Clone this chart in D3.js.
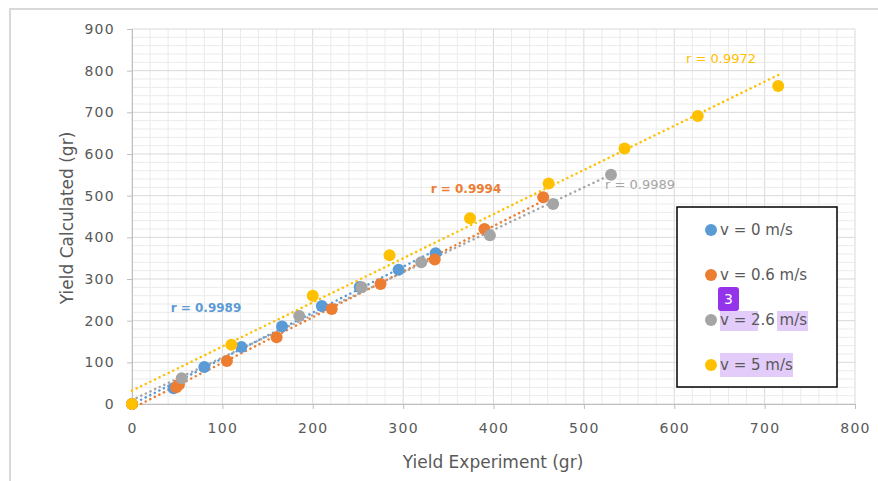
<!DOCTYPE html>
<html>
<head>
<meta charset="utf-8">
<script src="https://cdn.jsdelivr.net/npm/d3@7"></script>
<style>
  body { margin: 0; background: #fff; }
  text { font-family: "DejaVu Sans", sans-serif; }
</style>
</head>
<body>
<div id="chart"></div>
<script>
// series values: [yield experiment, yield calculated]
let seriesNames = ["v = 0 m/s", "v = 0.6 m/s", "v = 2.6 m/s", "v = 5 m/s"];
let v0 = [[0,0],[46,38],[80,89],[121,137],[166,186],[210,235],[252,281],[295,322],[336,362]];
let v06 = [[0,0],[49,40],[52,47],[105,103],[160,160],[221,228],[275,288],[335,347],[390,420],[455,496]];
let v26 = [[0,0],[55,62],[185,211],[254,280],[320,340],[396,405],[466,480],[530,550]];
let v5 = [[0,0],[110,142],[200,260],[285,357],[374,446],[461,529],[545,613],[626,691],[715,763]];
let rLabels = ["r = 0.9989", "r = 0.9994", "r = 0.9989", "r = 0.9972"];
let xTicks = [0,100,200,300,400,500,600,700,800];
let yTicks = [0,100,200,300,400,500,600,700,800,900];

let colors = ["#5B9BD5", "#ED7D31", "#A5A5A5", "#FFC000"];
let allSeries = [v0, v06, v26, v5];

let width = 878, height = 481;
let svg = d3.select("#chart").append("svg")
    .attr("width", width)
    .attr("height", height);

// outer chart frame
svg.append("rect")
    .attr("x", 10).attr("y", 9)
    .attr("width", 900).attr("height", 500)
    .attr("fill", "#fff")
    .attr("stroke", "#d9d9d9")
    .attr("stroke-width", 2);

let x = d3.scaleLinear().domain([0, 800]).range([132, 855]);
let y = d3.scaleLinear().domain([0, 900]).range([404, 29]);

// grid: minor every 20, major every 100
let grid = svg.append("g");
d3.range(0, 801, 20).forEach(v => {
    grid.append("line")
        .attr("x1", x(v)).attr("x2", x(v))
        .attr("y1", y(0)).attr("y2", y(900))
        .attr("stroke", v % 100 == 0 ? "#d9d9d9" : "#ebebeb")
        .attr("stroke-width", 1);
});
d3.range(0, 901, 20).forEach(v => {
    grid.append("line")
        .attr("x1", x(0)).attr("x2", x(800))
        .attr("y1", y(v)).attr("y2", y(v))
        .attr("stroke", v % 100 == 0 ? "#d9d9d9" : "#ebebeb")
        .attr("stroke-width", 1);
});

// axes
let axisX = svg.append("g")
    .attr("transform", "translate(0," + y(0) + ")")
    .call(d3.axisBottom(x).tickValues(xTicks).tickSize(5).tickPadding(14));
let axisY = svg.append("g")
    .attr("transform", "translate(" + x(0) + ",0)")
    .call(d3.axisLeft(y).tickValues(yTicks).tickSize(5).tickPadding(12));
[axisX, axisY].forEach(a => {
    a.select(".domain").attr("stroke", "#bfbfbf");
    a.selectAll(".tick line").attr("stroke", "#bfbfbf");
    a.selectAll(".tick text")
        .attr("fill", "#595959")
        .style("font-size", "14px")
        .style("letter-spacing", "1.3px")
        .style("font-family", "DejaVu Sans");
});

// axis titles
svg.append("text")
    .attr("x", 493).attr("y", 468)
    .attr("text-anchor", "middle")
    .attr("fill", "#595959")
    .style("font-size", "17px")
    .text("Yield Experiment (gr)");
svg.append("text")
    .attr("transform", "translate(73,218) rotate(-90)")
    .attr("text-anchor", "middle")
    .attr("fill", "#595959")
    .style("font-size", "17px")
    .text("Yield Calculated (gr)");

// linear trendlines (least squares)
function fit(data) {
    let mx = d3.mean(data, d => d[0]), my = d3.mean(data, d => d[1]);
    let sxy = d3.sum(data, d => (d[0]-mx)*(d[1]-my));
    let sxx = d3.sum(data, d => (d[0]-mx)*(d[0]-mx));
    let b = sxy / sxx;
    return { b: b, a: my - b*mx };
}
allSeries.forEach((data, i) => {
    let f = fit(data);
    let x0 = d3.min(data, d => d[0]), x1 = d3.max(data, d => d[0]);
    svg.append("line")
        .attr("x1", x(x0)).attr("y1", y(f.a + f.b*x0))
        .attr("x2", x(x1)).attr("y2", y(f.a + f.b*x1))
        .attr("stroke", colors[i])
        .attr("stroke-width", 2.5)
        .attr("stroke-linecap", "round")
        .attr("stroke-dasharray", "0.1 5");
});

// markers
allSeries.forEach((data, i) => {
    svg.append("g").selectAll("circle")
        .data(data)
        .enter()
        .append("circle")
        .attr("cx", d => x(d[0]))
        .attr("cy", d => y(d[1]))
        .attr("r", 6)
        .attr("fill", colors[i]);
});

// r labels
let rPos = [[206, 312, "bold"], [466, 193, "bold"], [640, 189, "normal"], [721, 63, "normal"]];
rLabels.forEach((t, i) => {
    svg.append("text")
        .attr("x", rPos[i][0]).attr("y", rPos[i][1])
        .attr("text-anchor", "middle")
        .attr("fill", colors[i])
        .style("font-size", rPos[i][2] == "bold" ? "12px" : "13px")
        .style("font-weight", rPos[i][2])
        .text(t);
});

// legend
let legend = svg.append("g");
legend.append("rect")
    .attr("x", 677).attr("y", 207)
    .attr("width", 160).attr("height", 180)
    .attr("fill", "#fff")
    .attr("stroke", "#000")
    .attr("stroke-width", 1.5);

// highlight marks over the legend text
[[720, 311, 38, 20], [777, 311, 31, 20], [720, 353, 73, 24]].forEach(h => {
    legend.append("rect")
        .attr("x", h[0]).attr("y", h[1])
        .attr("width", h[2]).attr("height", h[3])
        .attr("fill", "#e3ccf9");
});

seriesNames.forEach((name, i) => {
    let ly = 230 + i*45;
    legend.append("circle")
        .attr("cx", 711).attr("cy", ly)
        .attr("r", 6)
        .attr("fill", colors[i]);
    legend.append("text")
        .attr("x", 720).attr("y", ly + 5)
        .attr("fill", "#595959")
        .style("font-size", "15px")
        .text(name);
});

// comment badge
legend.append("rect")
    .attr("x", 718).attr("y", 287)
    .attr("width", 21).attr("height", 24)
    .attr("rx", 3)
    .attr("fill", "#9333ea");
legend.append("text")
    .attr("x", 728.5).attr("y", 304)
    .attr("text-anchor", "middle")
    .attr("fill", "#fff")
    .style("font-size", "14px")
    .text("3");
</script>
</body>
</html>
